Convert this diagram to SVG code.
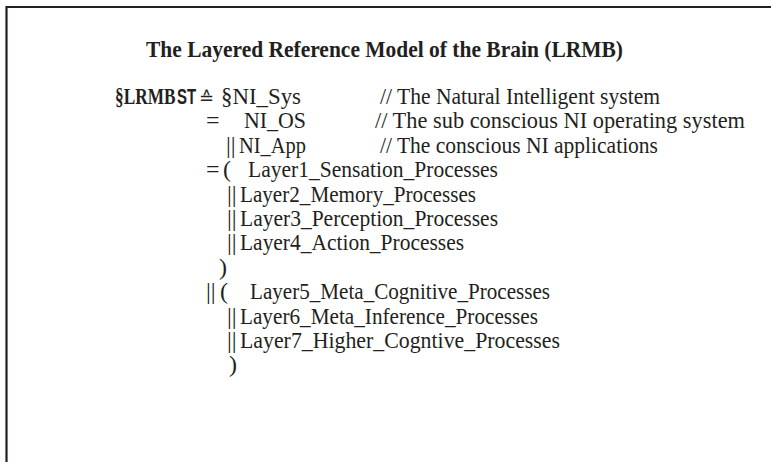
<svg xmlns="http://www.w3.org/2000/svg" width="771" height="462" viewBox="0 0 771 462">
<style>
.t{font-family:"Liberation Serif","Times New Roman",serif;font-size:24px;fill:#231f20}
.b{font-weight:bold}
.s{font-family:"Liberation Sans Narrow","Liberation Sans",Arial,sans-serif;font-weight:bold;font-size:22px;fill:#231f20}
.m{font-family:"DejaVu Sans","Liberation Serif",sans-serif;font-size:18px;fill:#231f20}
</style>
<rect x="0" y="0" width="771" height="462" fill="#ffffff"/>
<g id="frame">
<path d="M6.5,470 V7 H780" fill="none" stroke="#231f20" stroke-width="2.2"/>
</g>
<g id="title">
<text class="t b" x="384.5" y="57" text-anchor="middle" textLength="477" lengthAdjust="spacingAndGlyphs">The Layered Reference Model of the Brain (LRMB)</text>
</g>
<g id="formula">
<text class="t b" transform="translate(115,104) scale(0.72,1)" x="0" y="0">§LRMB</text>
<text class="s" transform="translate(177,104) scale(0.68,1)" x="0" y="0">ST</text>
<text class="m" x="199" y="104">≙</text>
<text class="t" x="221" y="104" textLength="80" lengthAdjust="spacingAndGlyphs">§NI_Sys</text>
<text class="t" x="380" y="104" textLength="280" lengthAdjust="spacingAndGlyphs">// The Natural Intelligent system</text>

<text class="t" x="206" y="128.4">=</text>
<text class="t" x="244" y="128.4" textLength="62" lengthAdjust="spacingAndGlyphs">NI_OS</text>
<text class="t" x="375" y="128.4" textLength="370" lengthAdjust="spacingAndGlyphs">// The sub conscious NI operating system</text>

<text class="t" x="226" y="152.8">||</text>
<text class="t" x="239" y="152.8" textLength="67" lengthAdjust="spacingAndGlyphs">NI_App</text>
<text class="t" x="380" y="152.8" textLength="278" lengthAdjust="spacingAndGlyphs">// The conscious NI applications</text>

<text class="t" x="206" y="177.2">=</text>
<text class="t" x="223" y="177.2">(</text>
<text class="t" x="248" y="177.2" textLength="250" lengthAdjust="spacingAndGlyphs">Layer1_Sensation_Processes</text>

<text class="t" x="227" y="201.6">||</text>
<text class="t" x="240" y="201.6" textLength="236" lengthAdjust="spacingAndGlyphs">Layer2_Memory_Processes</text>

<text class="t" x="227" y="226">||</text>
<text class="t" x="240" y="226" textLength="258" lengthAdjust="spacingAndGlyphs">Layer3_Perception_Processes</text>

<text class="t" x="227" y="250.4">||</text>
<text class="t" x="240" y="250.4" textLength="224" lengthAdjust="spacingAndGlyphs">Layer4_Action_Processes</text>

<text class="t" x="219" y="274.8">)</text>

<text class="t" x="206" y="299.2">||</text>
<text class="t" x="220" y="299.2">(</text>
<text class="t" x="250" y="299.2" textLength="300" lengthAdjust="spacingAndGlyphs">Layer5_Meta_Cognitive_Processes</text>

<text class="t" x="227" y="323.6">||</text>
<text class="t" x="240" y="323.6" textLength="298" lengthAdjust="spacingAndGlyphs">Layer6_Meta_Inference_Processes</text>

<text class="t" x="227" y="348">||</text>
<text class="t" x="240" y="348" textLength="320" lengthAdjust="spacingAndGlyphs">Layer7_Higher_Cogntive_Processes</text>

<text class="t" x="229" y="372.4">)</text>
</g>
</svg>
